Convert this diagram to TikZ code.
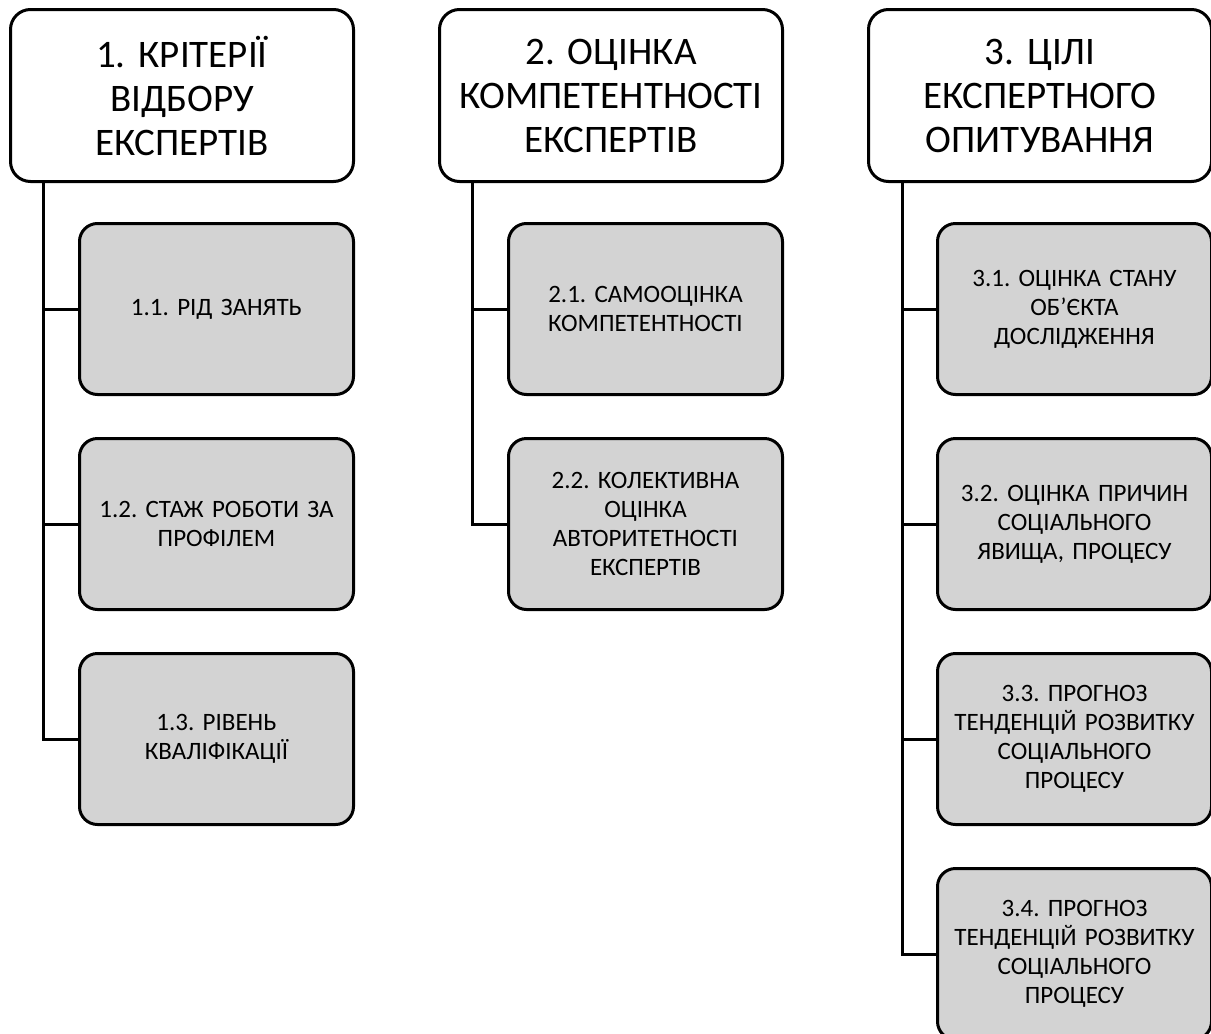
\documentclass[tikz,border=0pt]{standalone}
\usepackage{fontspec}
\setmainfont{Carlito}
\usetikzlibrary{positioning}
\definecolor{boxgray}{RGB}{211,211,211}
\frenchspacing

\begin{document}
\begin{tikzpicture}[x=1pt,y=-1pt,line width=3pt,node distance=41pt,
	  head/.style={draw,rounded corners=20pt,fill=white,align=center,
	    minimum width=343pt,minimum height=172pt,text width=335pt,
	    font=\fontsize{39}{44}\selectfont},
	  item/.style={draw,rounded corners=18pt,fill=boxgray,align=center,
	    minimum width=274pt,minimum height=171pt,text width=266pt,
	    font=\fontsize{25}{29}\selectfont}]
	  \useasboundingbox (0,0) rectangle (1211,1034);
	  % headers
	  \node (1_0) [head,anchor=north west] at (9,8) {1. КРІТЕРІЇ\\ВІДБОРУ\\ЕКСПЕРТІВ};
	  \node (2_0) [head,anchor=north west] at (438,8) {2. ОЦІНКА\\КОМПЕТЕНТНОСТІ\\ЕКСПЕРТІВ};
	  \node (3_0) [head,anchor=north west] at (867,8) {3. ЦІЛІ\\ЕКСПЕРТНОГО\\ОПИТУВАННЯ};
	  % column 1
	  \node (1_1) [item,anchor=north west] at (78,222) {1.1. РІД ЗАНЯТЬ};
	  \node (1_2) [item,below=of 1_1] {1.2. СТАЖ РОБОТИ ЗА\\ПРОФІЛЕМ};
	  \node (1_3) [item,below=of 1_2] {1.3. РІВЕНЬ\\КВАЛІФІКАЦІЇ};
	  % column 2
	  \node (2_1) [item,anchor=north west] at (507,222) {2.1. САМООЦІНКА\\КОМПЕТЕНТНОСТІ};
	  \node (2_2) [item,below=of 2_1] {2.2. КОЛЕКТИВНА\\ОЦІНКА\\АВТОРИТЕТНОСТІ\\ЕКСПЕРТІВ};
	  % column 3
	  \node (3_1) [item,anchor=north west] at (936,222) {3.1. ОЦІНКА СТАНУ\\ОБ’ЄКТА\\ДОСЛІДЖЕННЯ};
	  \node (3_2) [item,below=of 3_1] {3.2. ОЦІНКА ПРИЧИН\\СОЦІАЛЬНОГО\\ЯВИЩА, ПРОЦЕСУ};
	  \node (3_3) [item,below=of 3_2] {3.3. ПРОГНОЗ\\ТЕНДЕНЦІЙ РОЗВИТКУ\\СОЦІАЛЬНОГО\\ПРОЦЕСУ};
	  \node (3_4) [item,below=of 3_3] {3.4. ПРОГНОЗ\\ТЕНДЕНЦІЙ РОЗВИТКУ\\СОЦІАЛЬНОГО\\ПРОЦЕСУ};
	  % connectors
	  \coordinate (1_t) at ([xshift=34pt]1_0.south west);
	  \coordinate (2_t) at ([xshift=34pt]2_0.south west);
	  \coordinate (3_t) at ([xshift=35pt]3_0.south west);
	  \draw (1_t) |- (1_3.west);
	  \draw (1_t |- 1_1.west) -- (1_1.west);
	  \draw (1_t |- 1_2.west) -- (1_2.west);
	  \draw (2_t) |- (2_2.west);
	  \draw (2_t |- 2_1.west) -- (2_1.west);
	  \draw (3_t) |- (3_4.west);
	  \draw (3_t |- 3_1.west) -- (3_1.west);
	  \draw (3_t |- 3_2.west) -- (3_2.west);
	  \draw (3_t |- 3_3.west) -- (3_3.west);
\end{tikzpicture}
\end{document}
